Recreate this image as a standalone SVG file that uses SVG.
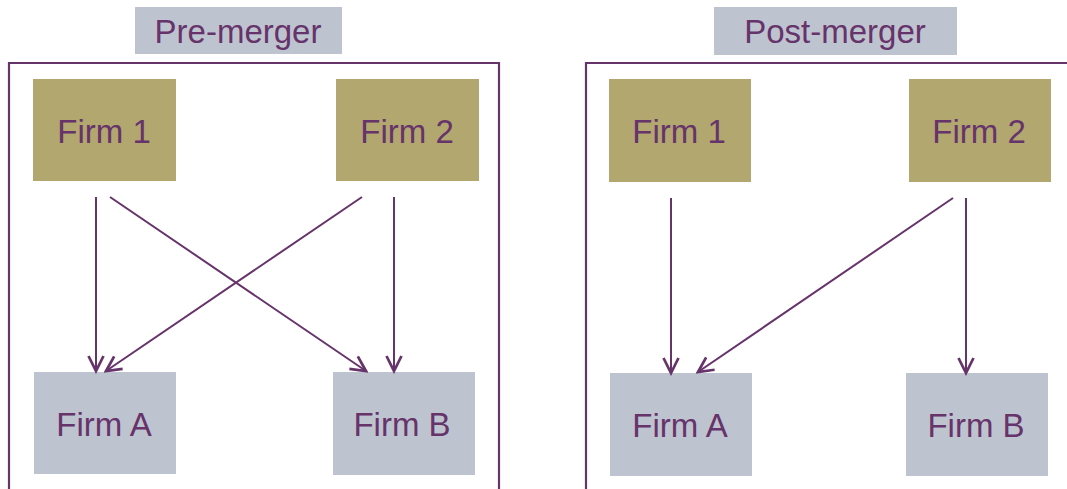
<svg xmlns="http://www.w3.org/2000/svg" width="1067" height="489" viewBox="0 0 1067 489">
<style>
.frame{fill:none;stroke:#66336a;stroke-width:2.2}
.title{fill:#bec4cf}
.top{fill:#b1a76f}
.bot{fill:#bec4cf}
text{font-family:"Liberation Sans",Arial,sans-serif;font-size:33px;fill:#66336a;text-anchor:middle}
.conn line{stroke:#66336a;stroke-width:2;marker-end:url(#arr)}
</style>
<defs>
<marker id="arr" markerUnits="userSpaceOnUse" markerWidth="20" markerHeight="20" viewBox="-14 -8 16 16" refX="0" refY="0" orient="auto">
<path d="M-12,-6 L0,0 L-12,6" fill="none" stroke="#66336a" stroke-width="2.2" stroke-linejoin="miter"/>
</marker>
</defs>
<rect width="1067" height="489" fill="#fff"/>
<g id="pre-frame">
<path class="frame" d="M9,495 V63 H499 V495"/>
</g>
<g id="post-frame">
<path class="frame" d="M586,495 V63 H1075"/>
</g>
<g id="pre-title"><rect class="title" x="135" y="7" width="207" height="47"/><text x="238" y="43">Pre-merger</text></g>
<g id="post-title"><rect class="title" x="714" y="7" width="243" height="48"/><text x="835" y="43">Post-merger</text></g>
<g id="pre-firm1"><rect class="top" x="33" y="79" width="143" height="102"/><text x="104" y="143">Firm 1</text></g>
<g id="pre-firm2"><rect class="top" x="336" y="79" width="143" height="102"/><text x="407" y="143">Firm 2</text></g>
<g id="pre-firmA"><rect class="bot" x="34" y="372" width="142" height="102"/><text x="104" y="436">Firm A</text></g>
<g id="pre-firmB"><rect class="bot" x="333" y="372" width="142" height="103"/><text x="402" y="436">Firm B</text></g>
<g id="post-firm1"><rect class="top" x="609" y="79" width="142" height="103"/><text x="679" y="143">Firm 1</text></g>
<g id="post-firm2"><rect class="top" x="909" y="79" width="142" height="103"/><text x="979" y="143">Firm 2</text></g>
<g id="post-firmA"><rect class="bot" x="610" y="373" width="142" height="103"/><text x="680" y="437">Firm A</text></g>
<g id="post-firmB"><rect class="bot" x="906" y="373" width="142" height="103"/><text x="976" y="437">Firm B</text></g>
<g id="connectors" class="conn">
<line x1="96" y1="197" x2="96" y2="371"/>
<line x1="110" y1="197" x2="366" y2="371"/>
<line x1="362" y1="197" x2="106" y2="371"/>
<line x1="394" y1="197" x2="394" y2="371"/>
<line x1="671" y1="198" x2="671" y2="373"/>
<line x1="953" y1="198" x2="698" y2="372"/>
<line x1="966" y1="198" x2="966" y2="373"/>
</g>
</svg>
